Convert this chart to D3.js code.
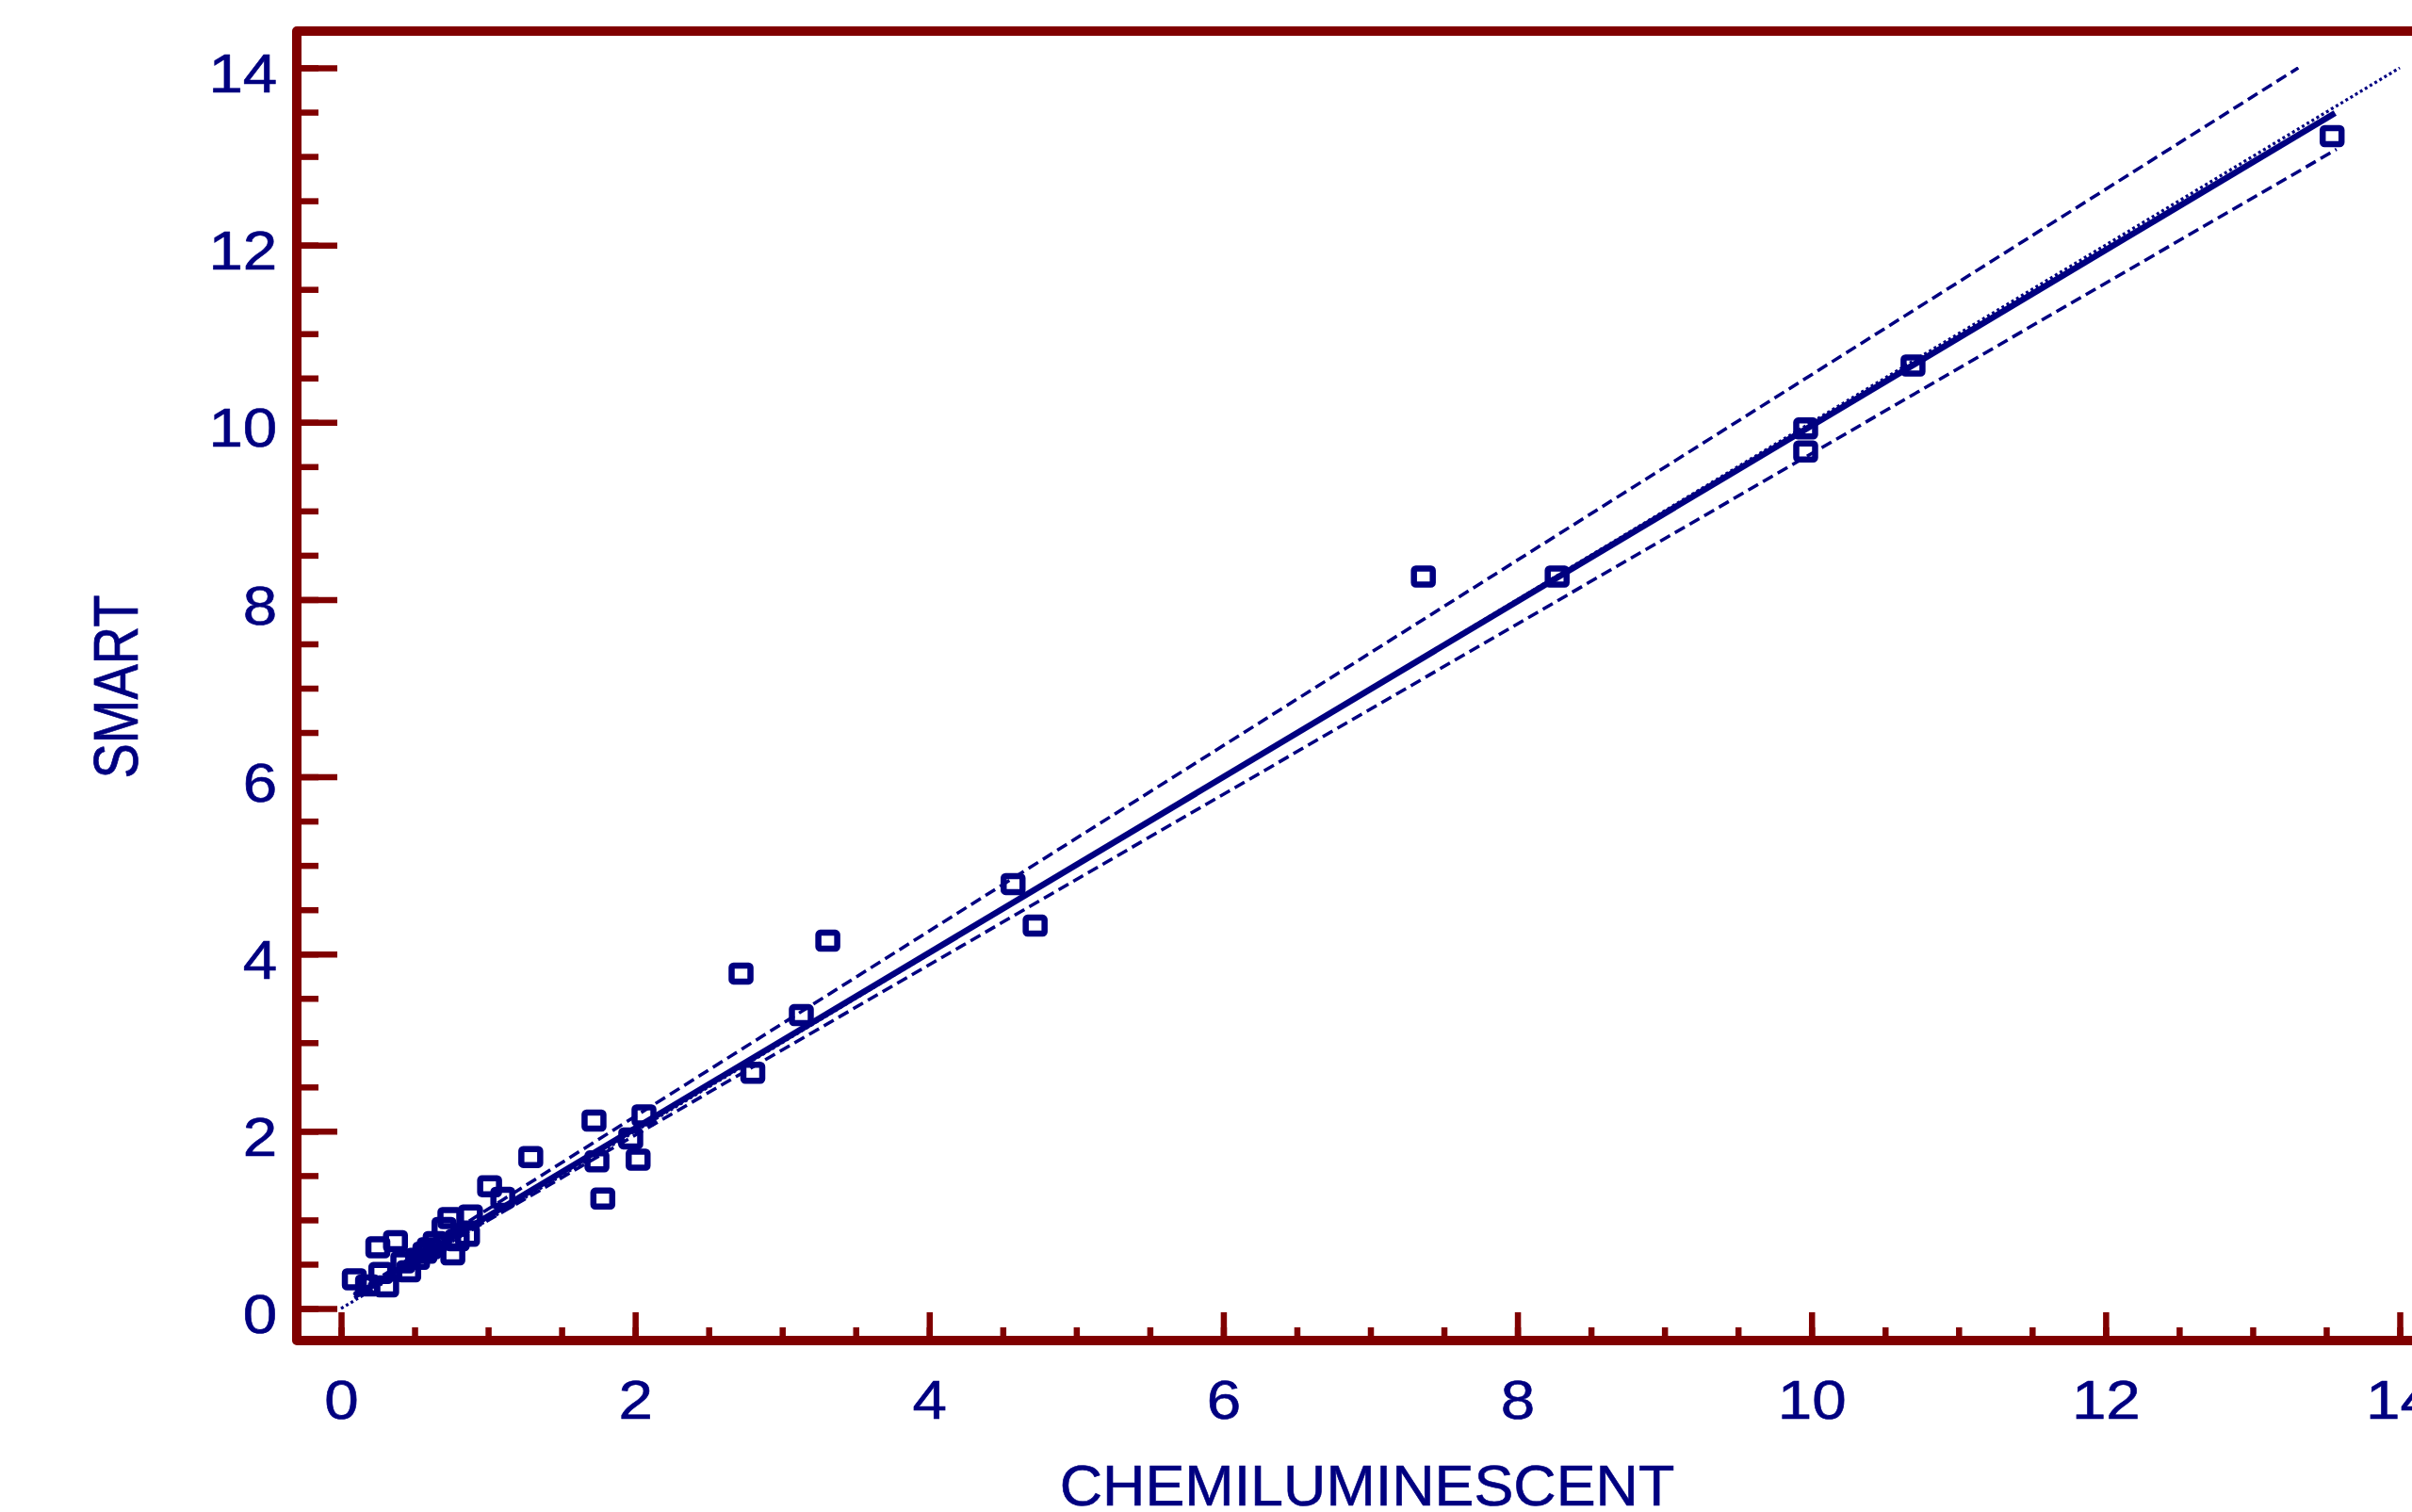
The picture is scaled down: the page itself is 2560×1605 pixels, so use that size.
<!DOCTYPE html>
<html>
<head>
<meta charset="utf-8">
<script src="https://cdn.jsdelivr.net/npm/d3@7"></script>
<style>
  body { margin: 0; background: #fff; }
  svg { display: block; font-family: "Liberation Sans", Arial, sans-serif; }
</style>
</head>
<body>
<div id="chart"></div>
<script>
// values
const chemi = [0.09, 0.18, 0.31, 0.25, 0.27, 0.37, 0.42, 0.46, 0.52, 0.57, 0.60, 0.64, 0.70, 0.74,
  0.76, 0.79, 0.86, 0.88, 1.01, 1.10, 1.29, 1.72, 1.74, 1.78, 1.97, 2.02, 2.06, 2.72, 2.80,
  3.13, 3.31, 4.57, 4.72, 7.36, 8.27, 9.96, 9.96, 10.69, 13.54];
const smart = [0.33, 0.26, 0.25, 0.69, 0.40, 0.76, 0.52, 0.42, 0.56, 0.63, 0.68, 0.75, 0.91, 1.02,
  0.61, 0.77, 0.82, 1.05, 1.38, 1.25, 1.71, 2.12, 1.66, 1.24, 1.92, 1.68, 2.18, 3.78, 2.66,
  3.31, 4.15, 4.79, 4.32, 8.26, 8.26, 9.93, 9.67, 10.64, 13.23];

// line end points [x0, y0, x1, y1]
const fitLine   = [0.09, 0.14, 13.56, 13.49];
const upperCI   = [0.09, 0.17, 13.31, 14.0];
const lowerCI   = [0.09, 0.12, 13.57, 13.08];
const identity  = [0, 0, 14, 14];

const majorTicks = [0, 2, 4, 6, 8, 10, 12, 14];
const minorTicks = d3.range(0, 14.01, 0.5);

const W = 2560, H = 1605;
const navy = '#000080', maroon = '#800000';
const frameL = 315, frameT = 33, frameB = 1423;

const x = d3.scaleLinear().domain([0, 14]).range([362, 2547]);
const y = d3.scaleLinear().domain([0, 14]).range([1389, 72]);

const svg = d3.select('#chart').append('svg')
  .attr('width', W)
  .attr('height', H);

svg.append('defs').append('clipPath').attr('id', 'plot')
  .append('rect')
  .attr('x', x(0) - 1).attr('y', y(14) - 1)
  .attr('width', x(14) - x(0) + 2).attr('height', y(0) - y(14) + 2);

// ticks (inside the frame)
function styleAxis(g) {
  g.select('.domain').remove();
  g.selectAll('line').attr('stroke', maroon).attr('stroke-width', 6.5);
}

svg.append('g')
  .attr('transform', `translate(0,${frameB})`)
  .call(d3.axisBottom(x).tickValues(minorTicks).tickSize(-14).tickFormat(''))
  .call(styleAxis);

const xAxis = svg.append('g')
  .attr('transform', `translate(0,${frameB})`)
  .call(d3.axisBottom(x).tickValues(majorTicks).tickSize(-30).tickPadding(43).tickFormat(d3.format('d')))
  .call(styleAxis);

svg.append('g')
  .attr('transform', `translate(${frameL},0)`)
  .call(d3.axisLeft(y).tickValues(minorTicks).tickSize(-23).tickFormat(''))
  .call(styleAxis);

const yAxis = svg.append('g')
  .attr('transform', `translate(${frameL},0)`)
  .call(d3.axisLeft(y).tickValues(majorTicks).tickSize(-43).tickPadding(18).tickFormat(d3.format('d')))
  .call(styleAxis);

[xAxis, yAxis].forEach(g => {
  g.selectAll('text')
    .attr('fill', navy)
    .attr('stroke', navy)
    .attr('stroke-width', 0.6)
    .style('font-size', '57px')
    .attr('transform', 'scale(1.15,1)');
});
yAxis.selectAll('text').attr('dy', '0.45em');

// frame (right side runs off the picture)
svg.append('path')
  .attr('d', `M${W + 40},${frameT}H${frameL}V${frameB}H${W + 40}`)
  .attr('fill', 'none')
  .attr('stroke', maroon)
  .attr('stroke-width', 10)
  .attr('stroke-linejoin', 'round');

// lines
const lines = svg.append('g').attr('clip-path', 'url(#plot)');
function seg(p, width, dash) {
  lines.append('line')
    .attr('x1', x(p[0])).attr('y1', y(p[1]))
    .attr('x2', x(p[2])).attr('y2', y(p[3]))
    .attr('stroke', navy)
    .attr('stroke-width', width)
    .attr('stroke-dasharray', dash);
}
seg(identity, 3.2, '3 3');
seg(upperCI, 3.5, '12 6');
seg(lowerCI, 3.5, '12 6');
seg(fitLine, 6.5, null);

// points
const pts = chemi.map((c, i) => [c, smart[i]]);
svg.append('g').selectAll('rect')
  .data(pts)
  .join('rect')
  .attr('x', d => x(d[0]) - 10)
  .attr('y', d => y(d[1]) - 8.5)
  .attr('width', 20)
  .attr('height', 17)
  .attr('rx', 2)
  .attr('fill', 'none')
  .attr('stroke', navy)
  .attr('stroke-width', 6.5);

// axis titles
svg.append('text')
  .attr('transform', 'translate(1451,1598) scale(1.03,1)')
  .attr('text-anchor', 'middle')
  .attr('fill', navy)
  .attr('stroke', navy)
  .attr('stroke-width', 0.6)
  .style('font-size', '61px')
  .text('CHEMILUMINESCENT');

svg.append('text')
  .attr('transform', 'translate(146,729) scale(1.2,1) rotate(-90)')
  .attr('text-anchor', 'middle')
  .attr('fill', navy)
  .attr('stroke', navy)
  .attr('stroke-width', 0.6)
  .style('font-size', '56px')
  .text('SMART');
</script>
</body>
</html>
